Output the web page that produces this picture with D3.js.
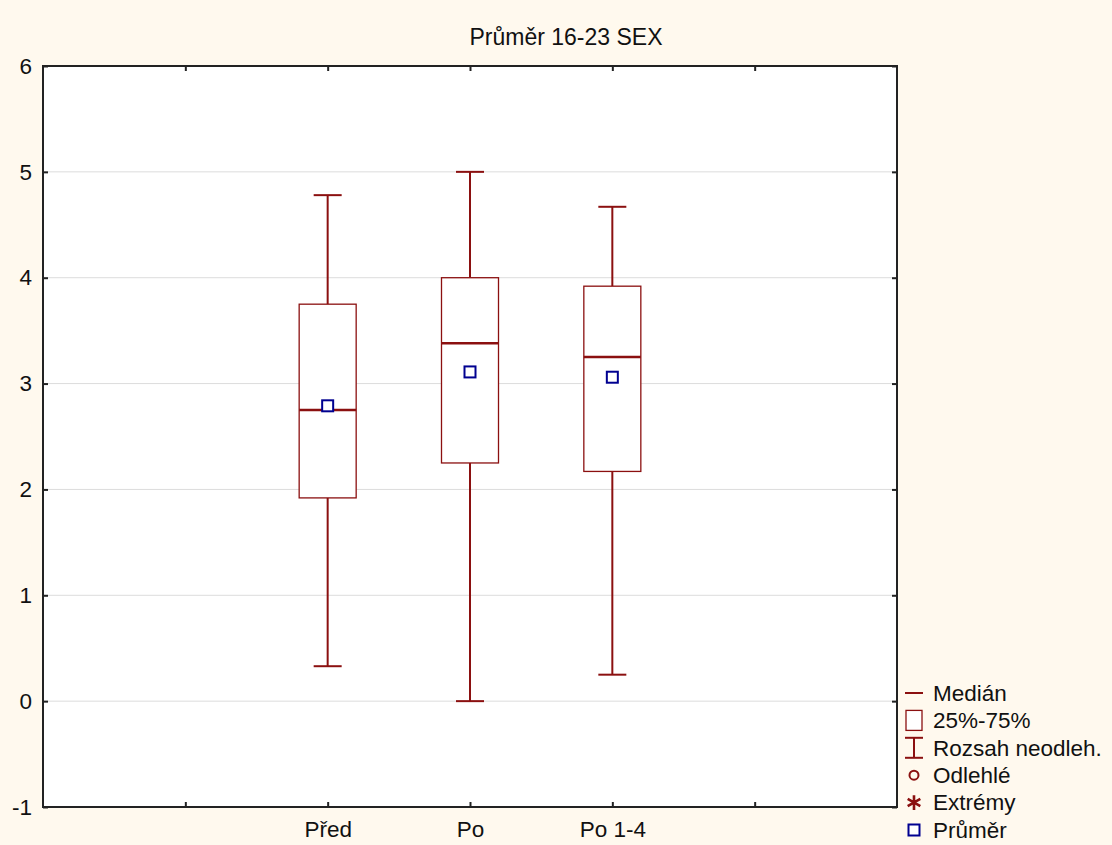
<!DOCTYPE html>
<html>
<head>
<meta charset="utf-8">
<script src="https://cdn.jsdelivr.net/npm/d3@7"></script>
<style>
  body { margin: 0; background: #fff9ee; }
  svg { display: block; font-family: "Liberation Sans", Arial, sans-serif; }
</style>
</head>
<body>
<script>
// data
let title = "Průměr 16-23 SEX";
let xTickLabels = ["", "Před", "Po", "Po 1-4", ""];
let groups = ["Před", "Po", "Po 1-4"];
let whiskerLow = [0.33, 0.0, 0.25];
let q1 = [1.92, 2.25, 2.17];
let median = [2.75, 3.38, 3.25];
let q3 = [3.75, 4.0, 3.92];
let whiskerHigh = [4.78, 5.0, 4.67];
let means = [2.79, 3.11, 3.06];
let yTicks = [-1, 0, 1, 2, 3, 4, 5, 6];
let legendItems = ["Medián", "25%-75%", "Rozsah neodleh.", "Odlehlé", "Extrémy", "Průměr"];

let w = 1112, h = 845;
let pLeft = 43, pRight = 897, pTop = 66, pBottom = 807;
let red = "#8b1010";
let navy = "#000090";

let svg = d3.select("body").append("svg")
  .attr("width", w)
  .attr("height", h);

svg.append("rect").attr("width", w).attr("height", h).attr("fill", "#fff9ee");
svg.append("rect")
  .attr("x", pLeft).attr("y", pTop)
  .attr("width", pRight - pLeft).attr("height", pBottom - pTop)
  .attr("fill", "#fff");

let x = d3.scaleLinear().domain([0, 6]).range([pLeft, pRight]);
let y = d3.scaleLinear().domain([-1, 6]).range([pBottom, pTop]);

// grid
svg.append("g").selectAll("line")
  .data(yTicks.filter(d => d > -1 && d < 6))
  .enter().append("line")
  .attr("x1", pLeft).attr("x2", pRight)
  .attr("y1", d => y(d)).attr("y2", d => y(d))
  .attr("stroke", "#dcdcdc").attr("stroke-width", 1);

// axes, ticks pointing inward
let xPos = xTickLabels.map((d, i) => i + 1);
let xAxis = d3.axisBottom(x).tickValues(xPos)
  .tickFormat((d, i) => xTickLabels[i]).tickSize(-5).tickPadding(14);
let xTop = d3.axisTop(x).tickValues(xPos).tickFormat("").tickSize(-5);
let yAxis = d3.axisLeft(y).tickValues(yTicks)
  .tickFormat(d => String(d)).tickSize(-5).tickPadding(11);
let yRight = d3.axisRight(y).tickValues(yTicks).tickFormat("").tickSize(-5);

function style(g) {
  g.select(".domain").remove();
  g.selectAll(".tick line").attr("stroke", "#222").attr("stroke-width", 2);
  g.selectAll(".tick text").attr("fill", "#111").style("font-size", "22.5px");
}

svg.append("g").attr("transform", "translate(0," + pBottom + ")").call(xAxis).call(style);
svg.append("g").attr("transform", "translate(0," + pTop + ")").call(xTop).call(style);
svg.append("g").attr("transform", "translate(" + pLeft + ",0)").call(yAxis).call(style);
svg.append("g").attr("transform", "translate(" + pRight + ",0)").call(yRight).call(style);

svg.append("rect")
  .attr("x", pLeft).attr("y", pTop)
  .attr("width", pRight - pLeft).attr("height", pBottom - pTop)
  .attr("fill", "none").attr("stroke", "#222").attr("stroke-width", 2);

// boxes
let boxW = 57, capW = 28;
let cx = g => x(xTickLabels.indexOf(g) + 1);

let box = svg.append("g").selectAll("g")
  .data(groups)
  .enter().append("g");

box.append("line")
  .attr("x1", d => cx(d)).attr("x2", d => cx(d))
  .attr("y1", (d, i) => y(whiskerLow[i])).attr("y2", (d, i) => y(q1[i]))
  .attr("stroke", red).attr("stroke-width", 2);
box.append("line")
  .attr("x1", d => cx(d)).attr("x2", d => cx(d))
  .attr("y1", (d, i) => y(q3[i])).attr("y2", (d, i) => y(whiskerHigh[i]))
  .attr("stroke", red).attr("stroke-width", 2);
box.append("line")
  .attr("x1", d => cx(d) - capW / 2).attr("x2", d => cx(d) + capW / 2)
  .attr("y1", (d, i) => y(whiskerLow[i])).attr("y2", (d, i) => y(whiskerLow[i]))
  .attr("stroke", red).attr("stroke-width", 2);
box.append("line")
  .attr("x1", d => cx(d) - capW / 2).attr("x2", d => cx(d) + capW / 2)
  .attr("y1", (d, i) => y(whiskerHigh[i])).attr("y2", (d, i) => y(whiskerHigh[i]))
  .attr("stroke", red).attr("stroke-width", 2);
box.append("rect")
  .attr("x", d => cx(d) - boxW / 2)
  .attr("y", (d, i) => y(q3[i]))
  .attr("width", boxW)
  .attr("height", (d, i) => y(q1[i]) - y(q3[i]))
  .attr("fill", "#fff").attr("stroke", red).attr("stroke-width", 1.3);
box.append("line")
  .attr("x1", d => cx(d) - boxW / 2).attr("x2", d => cx(d) + boxW / 2)
  .attr("y1", (d, i) => y(median[i])).attr("y2", (d, i) => y(median[i]))
  .attr("stroke", red).attr("stroke-width", 2.5);
box.append("rect")
  .attr("x", d => cx(d) - 5.5)
  .attr("y", (d, i) => y(means[i]) - 5.5)
  .attr("width", 11).attr("height", 11)
  .attr("fill", "#fff").attr("stroke", navy).attr("stroke-width", 2);

// title
svg.append("text")
  .attr("x", 566).attr("y", 45)
  .attr("text-anchor", "middle")
  .attr("fill", "#111")
  .style("font-size", "23px")
  .text(title);

// legend
let lx = 914, ly = 693, step = 27.4;
let legend = svg.append("g").selectAll("g")
  .data(legendItems)
  .enter().append("g")
  .attr("transform", (d, i) => "translate(" + lx + "," + (ly + i * step) + ")");

legend.append("text")
  .attr("x", 19).attr("dy", "0.35em")
  .attr("fill", "#111")
  .style("font-size", "22.5px")
  .text(d => d);

let sym = legend.nodes();
d3.select(sym[0]).append("line")
  .attr("x1", -9).attr("x2", 9).attr("stroke", red).attr("stroke-width", 2);
d3.select(sym[1]).append("rect")
  .attr("x", -8).attr("y", -10).attr("width", 16).attr("height", 20)
  .attr("fill", "#fff").attr("stroke", red).attr("stroke-width", 1.3);
let wk = d3.select(sym[2]);
wk.append("line").attr("y1", -10).attr("y2", 10).attr("stroke", red).attr("stroke-width", 2);
wk.append("line").attr("x1", -9).attr("x2", 9).attr("y1", -10).attr("y2", -10).attr("stroke", red).attr("stroke-width", 2);
wk.append("line").attr("x1", -9).attr("x2", 9).attr("y1", 10).attr("y2", 10).attr("stroke", red).attr("stroke-width", 2);
d3.select(sym[3]).append("circle")
  .attr("r", 4.5).attr("fill", "none").attr("stroke", red).attr("stroke-width", 2);
d3.select(sym[4]).append("path")
  .attr("d", d3.symbol(d3.symbolAsterisk, 150))
  .attr("fill", "none").attr("stroke", red).attr("stroke-width", 2.6);
d3.select(sym[5]).append("rect")
  .attr("x", -5.5).attr("y", -5.5).attr("width", 11).attr("height", 11)
  .attr("fill", "#fff").attr("stroke", navy).attr("stroke-width", 2);
</script>
</body>
</html>
